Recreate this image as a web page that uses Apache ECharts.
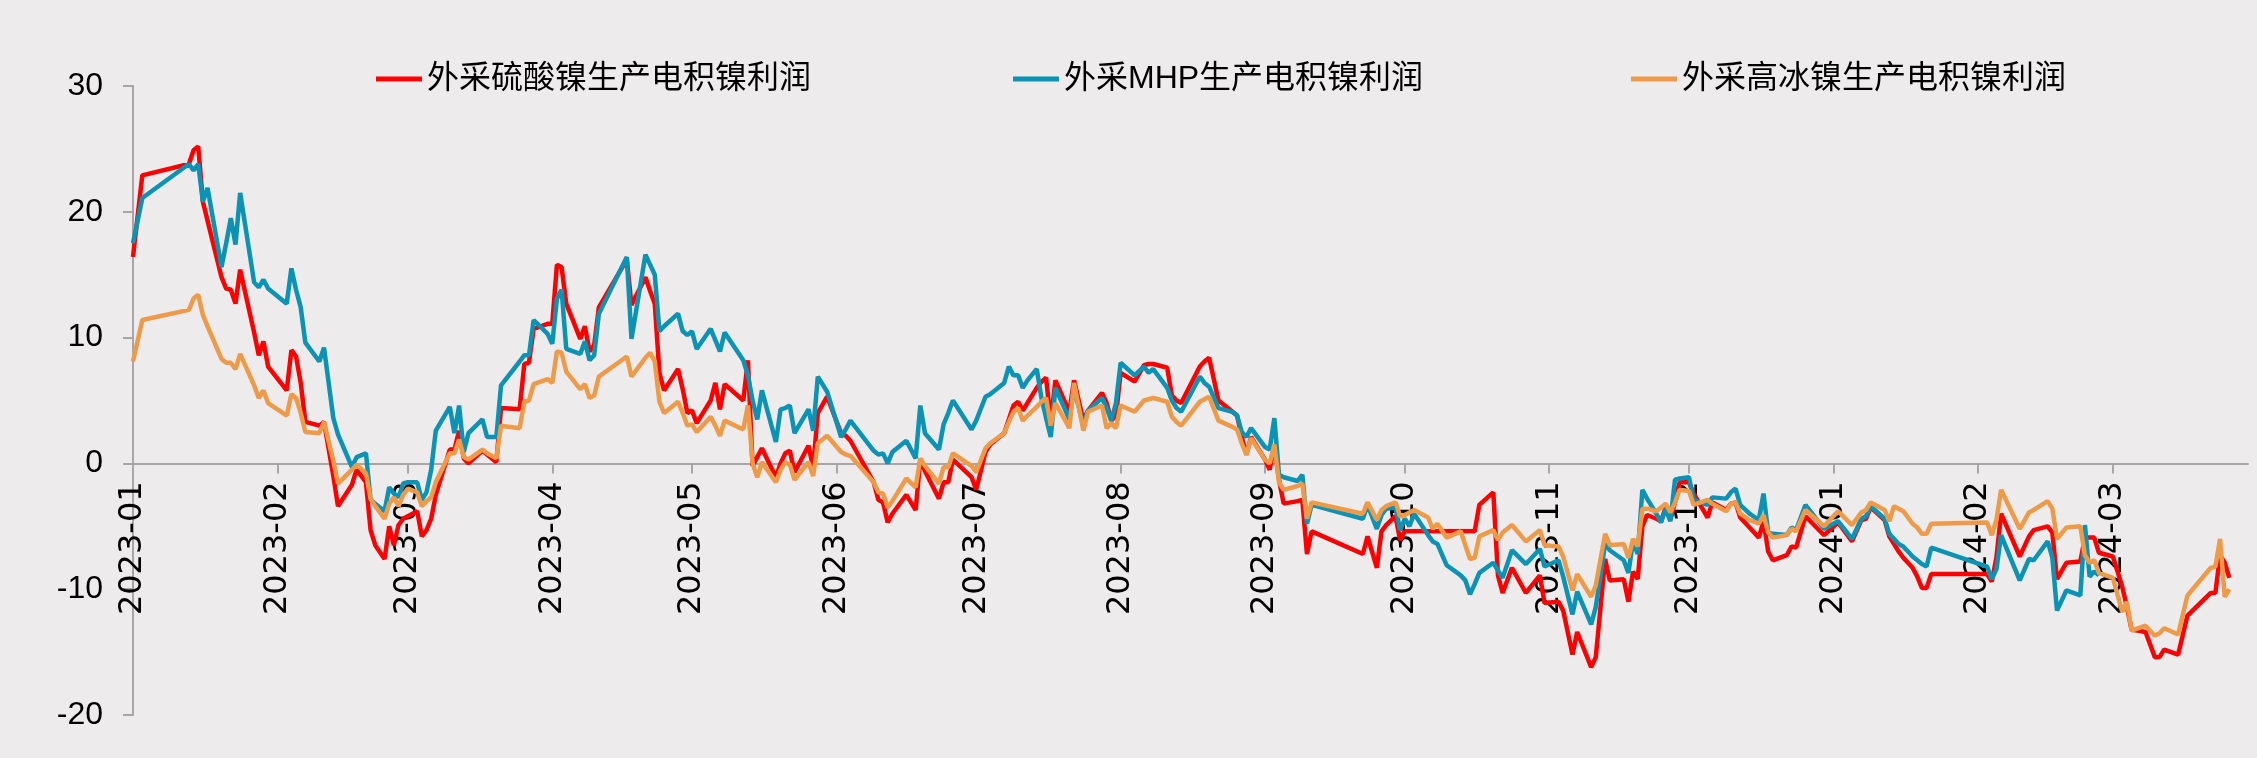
<!DOCTYPE html>
<html>
<head>
<meta charset="utf-8">
<script src="https://cdn.jsdelivr.net/npm/echarts@6/dist/echarts.min.js"></script>
<style>
  html, body { margin: 0; padding: 0; background: #EDEBEC; }
  #chart { width: 2257px; height: 758px; }
</style>
</head>
<body>
<div id="chart"></div>
<script>
// Series names (legend)
const seriesNames = ['外采硫酸镍生产电积镍利润', '外采MHP生产电积镍利润', '外采高冰镍生产电积镍利润'];

// Observation dates
const dates = [
  '2023-01-01','2023-01-03','2023-01-13','2023-01-14','2023-01-15','2023-01-16','2023-01-17','2023-01-20','2023-01-21','2023-01-22',
  '2023-01-23','2023-01-24','2023-01-27','2023-01-28','2023-01-29','2023-01-30','2023-02-03','2023-02-04','2023-02-05','2023-02-06',
  '2023-02-07','2023-02-10','2023-02-11','2023-02-13','2023-02-14','2023-02-17','2023-02-18','2023-02-20','2023-02-21','2023-02-22',
  '2023-02-24','2023-02-25','2023-02-26','2023-02-27','2023-02-28','2023-03-01','2023-03-03','2023-03-04','2023-03-05','2023-03-06',
  '2023-03-07','2023-03-10','2023-03-11','2023-03-12','2023-03-13','2023-03-14','2023-03-17','2023-03-18','2023-03-20','2023-03-21',
  '2023-03-25','2023-03-26','2023-03-27','2023-03-28','2023-03-31','2023-04-01','2023-04-02','2023-04-03','2023-04-04','2023-04-07',
  '2023-04-08','2023-04-09','2023-04-10','2023-04-11','2023-04-17','2023-04-18','2023-04-21','2023-04-22','2023-04-23','2023-04-24',
  '2023-04-25','2023-04-28','2023-04-29','2023-04-30','2023-05-01','2023-05-02','2023-05-05','2023-05-06','2023-05-07','2023-05-08',
  '2023-05-12','2023-05-13','2023-05-14','2023-05-15','2023-05-16','2023-05-19','2023-05-20','2023-05-21','2023-05-22','2023-05-23',
  '2023-05-26','2023-05-27','2023-05-28','2023-05-30','2023-06-02','2023-06-03','2023-06-04','2023-06-09','2023-06-10','2023-06-11',
  '2023-06-12','2023-06-13','2023-06-16','2023-06-18','2023-06-19','2023-06-20','2023-06-23','2023-06-24','2023-06-25','2023-06-26',
  '2023-06-30','2023-07-01','2023-07-03','2023-07-04','2023-07-07','2023-07-08','2023-07-09','2023-07-10','2023-07-11','2023-07-12',
  '2023-07-14','2023-07-15','2023-07-16','2023-07-17','2023-07-18','2023-07-21','2023-07-22','2023-07-24','2023-07-25','2023-07-28',
  '2023-07-29','2023-07-30','2023-07-31','2023-08-01','2023-08-04','2023-08-06','2023-08-07','2023-08-08','2023-08-11','2023-08-12',
  '2023-08-13','2023-08-14','2023-08-18','2023-08-19','2023-08-20','2023-08-22','2023-08-25','2023-08-26','2023-08-27','2023-08-28',
  '2023-08-29','2023-09-01','2023-09-02','2023-09-03','2023-09-04','2023-09-05','2023-09-08','2023-09-09','2023-09-10','2023-09-11',
  '2023-09-22','2023-09-23','2023-09-25','2023-09-26','2023-09-27','2023-09-29','2023-09-30','2023-10-01','2023-10-02','2023-10-03',
  '2023-10-06','2023-10-07','2023-10-08','2023-10-10','2023-10-13','2023-10-14','2023-10-15','2023-10-16','2023-10-17','2023-10-20',
  '2023-10-21','2023-10-22','2023-10-24','2023-10-27','2023-10-30','2023-10-31','2023-11-03','2023-11-04','2023-11-06','2023-11-07',
  '2023-11-10','2023-11-11','2023-11-13','2023-11-14','2023-11-17','2023-11-18','2023-11-19','2023-11-20','2023-11-21','2023-11-22',
  '2023-11-24','2023-11-25','2023-11-26','2023-11-27','2023-11-28','2023-11-29','2023-12-01','2023-12-02','2023-12-05','2023-12-06',
  '2023-12-09','2023-12-10','2023-12-11','2023-12-12','2023-12-14','2023-12-16','2023-12-17','2023-12-18','2023-12-19','2023-12-22',
  '2023-12-23','2023-12-24','2023-12-26','2023-12-30','2024-01-02','2024-01-05','2024-01-07','2024-01-08','2024-01-09','2024-01-12',
  '2024-01-13','2024-01-14','2024-01-15','2024-01-16','2024-01-18','2024-01-19','2024-01-20','2024-01-21','2024-01-22','2024-02-03',
  '2024-02-04','2024-02-05','2024-02-06','2024-02-10','2024-02-12','2024-02-13','2024-02-16','2024-02-17','2024-02-18','2024-02-20',
  '2024-02-23','2024-02-24','2024-02-25','2024-02-26','2024-02-27','2024-03-01','2024-03-03','2024-03-04','2024-03-05','2024-03-08',
  '2024-03-10','2024-03-11','2024-03-12','2024-03-15','2024-03-17','2024-03-22','2024-03-23','2024-03-24','2024-03-25','2024-03-26'
];

// 外采硫酸镍生产电积镍利润
const nickelSulfate = [
  16.4,22.9,23.8,24.9,25.2,20.8,19.3,14.8,13.9,13.8,
  12.7,15.4,10.4,8.6,9.7,7.7,5.8,9.0,8.5,6.4,
  3.3,3.0,3.3,-1.0,-3.4,-1.7,-0.5,-1.5,-5.3,-6.5,
  -7.6,-5.0,-6.5,-4.9,-4.4,-4.2,-3.8,-5.8,-5.3,-4.4,
  -2.5,1.1,1.1,2.6,0.4,0.0,1.0,0.7,0.1,4.4,
  4.3,7.9,8.0,10.7,11.1,11.1,15.8,15.6,12.7,9.9,
  10.9,8.9,9.4,12.4,16.2,12.6,14.8,13.7,12.7,7.2,
  5.8,7.5,5.9,4.0,4.2,3.2,5.0,6.4,4.3,6.3,
  5.0,8.2,-0.2,0.5,1.2,-1.1,0.0,0.8,1.0,-0.7,
  1.4,-0.3,4.0,5.3,2.4,2.2,1.8,-1.5,-2.9,-3.1,
  -4.7,-4.0,-2.5,-3.7,0.3,-0.6,-2.8,-1.5,-1.5,0.3,
  -1.1,-2.1,0.9,1.5,2.4,3.5,4.6,4.9,4.2,4.8,
  6.0,6.5,6.8,3.3,6.6,4.1,6.6,3.4,4.2,5.6,
  4.8,3.4,3.8,7.2,6.5,7.8,7.9,7.9,7.6,5.4,
  5.0,4.8,7.7,8.1,8.4,5.0,4.1,3.8,2.1,0.7,
  2.1,0.3,-0.5,1.5,-1.3,-3.2,-3.0,-2.9,-7.2,-5.4,
  -7.2,-5.8,-8.3,-5.4,-4.9,-4.2,-6.1,-5.4,-5.4,-5.4,
  -5.4,-5.4,-5.4,-5.4,-5.4,-5.4,-5.4,-5.4,-3.3,-2.3,
  -8.9,-10.3,-8.3,-10.3,-8.9,-11.1,-11.0,-11.7,-15.2,-13.4,
  -16.2,-15.4,-7.6,-9.3,-9.2,-11.0,-8.6,-9.2,-5.0,-4.1,
  -4.4,-4.6,-3.5,-4.5,-3.1,-1.5,-1.5,-2.4,-4.3,-3.1,
  -3.7,-3.2,-3.1,-4.3,-5.1,-5.9,-4.6,-7.0,-7.7,-7.3,
  -6.6,-6.7,-4.2,-5.7,-4.7,-6.2,-4.5,-4.4,-3.5,-4.5,
  -5.8,-6.4,-7.0,-7.5,-8.3,-9.0,-9.9,-9.9,-8.8,-8.8,
  -9.4,-7.5,-4.0,-7.4,-5.8,-5.3,-5.0,-5.5,-9.2,-7.9,
  -7.8,-5.9,-5.9,-5.9,-7.1,-7.4,-9.8,-11.4,-13.2,-13.4,
  -15.4,-15.4,-14.8,-15.2,-12.1,-10.3,-10.3,-7.3,-7.9,-9.1
];

// 外采MHP生产电积镍利润
const mhp = [
  17.5,21.1,23.8,23.3,23.8,20.8,21.9,15.6,17.5,19.5,
  17.4,21.5,14.4,14.0,14.6,13.9,12.7,15.5,13.8,12.4,
  9.6,8.1,9.2,3.6,2.3,-0.3,0.5,0.8,-2.9,-3.2,
  -3.8,-1.9,-2.4,-2.7,-1.6,-1.5,-1.5,-2.9,-2.3,-0.5,
  2.6,4.5,2.4,4.6,0.9,2.4,3.5,2.1,2.1,6.2,
  8.1,8.6,8.6,11.4,10.3,9.5,13.1,13.8,9.1,8.7,
  9.7,8.2,8.6,11.9,16.4,9.9,16.6,15.8,15.0,10.5,
  10.9,11.9,10.5,10.2,10.5,9.1,10.7,9.8,8.9,10.4,
  8.2,7.0,5.0,3.5,5.8,1.7,4.3,4.4,4.6,2.4,
  4.3,2.6,6.9,5.7,2.1,2.7,3.4,1.0,0.7,0.8,
  0.0,0.9,1.8,0.4,4.6,2.4,1.1,3.1,4.0,5.0,
  2.7,3.4,5.3,5.5,6.4,7.7,7.0,7.0,6.0,6.6,
  7.5,5.2,3.6,2.1,6.0,3.5,6.0,3.0,4.2,5.2,
  4.4,3.4,4.8,8.0,7.0,7.7,7.2,7.5,6.0,5.0,
  4.4,4.1,6.9,6.4,6.1,4.4,4.1,3.8,2.5,2.1,
  2.8,1.3,1.1,3.6,-0.9,-1.1,-1.4,-0.9,-4.8,-3.3,
  -4.4,-3.3,-5.2,-4.1,-3.6,-3.5,-5.3,-4.4,-5.0,-4.0,
  -5.7,-6.2,-6.4,-8.1,-8.9,-9.3,-10.4,-9.6,-8.7,-7.9,
  -8.5,-9.1,-6.9,-8.0,-6.8,-8.2,-7.7,-9.0,-12.0,-10.2,
  -12.8,-11.4,-6.4,-6.9,-7.7,-8.7,-6.2,-7.2,-2.1,-2.8,
  -4.0,-4.7,-3.6,-4.6,-1.3,-1.2,-1.1,-2.9,-3.3,-2.7,
  -2.8,-2.3,-2.0,-3.3,-4.0,-4.5,-2.4,-5.5,-5.6,-5.7,
  -5.1,-5.3,-3.3,-5.2,-4.6,-6.0,-4.4,-4.2,-3.4,-4.4,
  -5.6,-6.0,-6.4,-6.6,-7.4,-7.7,-8.0,-8.2,-6.7,-8.2,
  -9.2,-8.4,-5.7,-9.3,-7.6,-7.7,-6.2,-7.5,-11.7,-10.1,
  -10.5,-4.9,-9.0,-8.6,-8.9,null,null,null,null,null,
  null,null,null,null,null,null,null,null,null,null
];

// 外采高冰镍生产电积镍利润
const highMatte = [
  8.1,11.4,12.2,13.1,13.4,11.8,10.9,8.3,8.0,8.0,
  7.5,8.7,6.2,5.2,5.8,4.8,3.8,5.5,5.2,4.0,
  2.5,2.4,3.3,0.2,-1.6,-0.5,-0.1,-0.8,-2.8,-3.4,
  -4.4,-3.2,-2.7,-3.4,-2.5,-2.0,-2.3,-3.4,-3.0,-2.7,
  -1.5,0.8,0.8,1.9,0.5,0.3,1.1,0.8,0.4,3.0,
  2.8,4.9,5.0,6.3,6.7,6.4,8.9,8.8,7.3,5.9,
  6.3,5.2,5.4,6.9,8.5,6.9,8.4,8.8,8.1,4.9,
  4.0,4.9,4.0,3.0,3.1,2.5,3.7,3.0,2.2,3.4,
  2.7,4.6,0.0,-1.1,0.1,-1.5,-0.5,0.1,-0.1,-1.3,
  0.1,-1.0,1.6,2.2,0.9,0.7,0.6,-1.5,-2.3,-2.4,
  -3.5,-3.0,-1.2,-1.9,0.4,-0.2,-1.6,-0.3,-0.3,0.8,
  -0.2,-0.7,1.2,1.6,2.4,3.3,4.1,4.4,3.4,3.8,
  4.5,4.9,5.2,3.0,4.8,2.8,6.4,2.6,4.1,4.6,
  2.8,3.2,2.8,4.6,4.1,5.0,5.1,5.2,4.9,3.7,
  3.3,3.0,4.9,5.1,5.3,3.4,2.9,2.7,1.6,0.7,
  2.0,0.3,0.0,1.5,-1.5,-2.1,-1.8,-1.6,-4.4,-3.1,
  -4.0,-3.1,-4.5,-3.7,-3.4,-3.1,-4.2,-4.1,-3.9,-3.7,
  -4.3,-5.2,-4.8,-5.9,-5.4,-6.5,-7.6,-7.5,-5.8,-5.3,
  -6.1,-5.5,-4.9,-6.2,-5.3,-6.5,-6.6,-7.4,-10.1,-8.8,
  -10.6,-9.7,-5.6,-6.5,-6.4,-7.5,-6.0,-6.6,-3.6,-3.6,
  -3.8,-3.5,-3.2,-3.9,-3.1,-2.1,-2.2,-3.3,-2.9,-3.2,
  -3.8,-3.2,-3.1,-4.0,-4.5,-4.8,-4.1,-5.5,-5.9,-5.7,
  -5.2,-5.4,-3.7,-5.0,-3.8,-4.9,-3.9,-3.7,-3.1,-3.7,
  -4.6,-3.4,-3.6,-3.8,-4.8,-5.1,-5.6,-5.6,-4.8,-4.7,
  -5.7,-4.5,-2.1,-5.2,-3.9,-3.7,-3.0,-3.6,-6.0,-5.1,
  -5.0,-7.3,-7.9,-7.7,-8.7,-9.1,-11.8,-11.0,-13.3,-12.9,
  -13.7,-13.5,-13.1,-13.6,-10.5,-8.3,-8.2,-6.0,-10.6,-10.0
];

// y-axis range and step
const yMin = -20, yMax = 30, yStep = 10;
// x-axis range
const xMin = '2023-01-01', xMax = '2024-03-30';

const colors = ['#FF0000', '#0A93B5', '#EF9A48'];
const valueSets = [nickelSulfate, mhp, highMatte];
const latinCjk = '"Liberation Sans", "Noto Sans CJK SC", sans-serif';
const dateFont = '"DejaVu Sans", sans-serif';

// plot box
const gridTop = 86, gridBottom = 43, chartH = 758;
const plotH = chartH - gridTop - gridBottom;
// the date axis sits on the zero line
const zeroOffset = -(plotH * (0 - yMin) / (yMax - yMin));

const legendLefts = [371, 1008, 1626];

const chart = echarts.init(document.getElementById('chart'), null, { renderer: 'canvas' });

chart.setOption({
  backgroundColor: '#EDEBEC',
  animation: false,
  textStyle: { fontFamily: latinCjk },
  grid: { left: 133, right: 9, top: gridTop, bottom: gridBottom, containLabel: false, outerBoundsMode: 'none' },
  legend: seriesNames.map((n, i) => ({
    data: [n],
    left: legendLefts[i],
    top: 58,
    icon: 'rect',
    itemWidth: 46,
    itemHeight: 5,
    itemGap: 0,
    textStyle: { fontSize: 32, color: '#000', fontFamily: latinCjk },
  })),
  xAxis: {
    type: 'time',
    position: 'bottom',
    offset: zeroOffset,
    min: xMin,
    max: xMax,
    splitNumber: 15,
    minInterval: 28 * 86400000,
    maxInterval: 31 * 86400000,
    axisLine: { onZero: false, lineStyle: { color: '#A6A6A6', width: 2 } },
    axisTick: { show: true, length: 10, lineStyle: { color: '#A6A6A6', width: 2 } },
    splitLine: { show: false },
    axisLabel: {
      rotate: 90,
      margin: 18,
      fontSize: 32,
      color: '#000',
      fontFamily: dateFont,
      showMinLabel: true,
      formatter: function (v) {
        const d = new Date(v);
        return d.getFullYear() + '-' + String(d.getMonth() + 1).padStart(2, '0');
      }
    }
  },
  yAxis: {
    type: 'value',
    min: yMin,
    max: yMax,
    interval: yStep,
    axisLine: { show: true, lineStyle: { color: '#A6A6A6', width: 2 } },
    axisTick: { show: true, length: 10, lineStyle: { color: '#A6A6A6', width: 2 } },
    splitLine: { show: false },
    axisLabel: { fontSize: 32, margin: 30, color: '#000', fontFamily: latinCjk }
  },
  series: seriesNames.map((n, i) => ({
    name: n,
    type: 'line',
    symbol: 'none',
    connectNulls: false,
    lineStyle: { color: colors[i], width: 4.5 },
    itemStyle: { color: colors[i] },
    data: dates.map((d, k) => [d, valueSets[i][k]])
  }))
});
</script>
</body>
</html>
